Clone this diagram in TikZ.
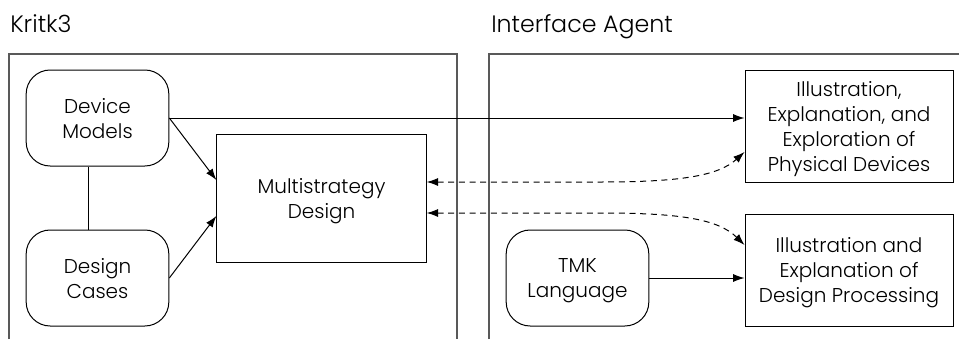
\documentclass[tikz,border=0pt]{standalone}
\usepackage{fontspec}
\setmainfont{Poppins}[UprightFont=* Light]
\usetikzlibrary{arrows.meta}
\begin{document}
\begin{tikzpicture}[x=0.75pt,y=-0.75pt,
  body/.style={font=\fontsize{15}{18.75}\selectfont, align=center, inner sep=0pt,
    text depth=0pt},
  title/.style={font=\fontsize{17.8}{20}\selectfont, inner sep=0pt, anchor=base west},
  roundbox/.style={body, draw, line width=0.75pt, rounded corners=18pt,
    minimum width=107pt, minimum height=72pt},
  plainbox/.style={body, draw, line width=0.75pt},
  frameline/.style={draw=black!65, line width=1.1pt},
  arrowtip/.tip={Latex[length=8.5pt,width=6pt]},
  link/.style={line width=0.75pt},
  flow/.style={link, -arrowtip},
  twoway/.style={link, dash pattern=on 4.5pt off 3.5pt, arrowtip-arrowtip}]
  \useasboundingbox (0,0) rectangle (959,339);

  % group titles
  \node[title] (tk) at (10,32) {Kritk3};
  \node[title] (ti) at (491,32) {Interface Agent};

  % group frames, open at the bottom
  \draw[frameline] (9,339) -- (9,54) -- (457,54) -- (457,339);
  \draw[frameline] (489,339) -- (489,54) -- (962,54);

  % Kritk3 components
  \node[roundbox] (dm) at (97.5,118) {Device\\Models};
  \node[roundbox] (dc) at (97.5,278) {Design\\Cases};
  \node[plainbox, minimum width=157pt, minimum height=96pt] (ms) at (321.5,198)
    {Multistrategy\\Design};

  % Interface Agent components
  \node[plainbox, minimum width=156pt, minimum height=84pt] (ie) at (849,126)
    {Illustration,\\Explanation, and\\Exploration of\\Physical Devices};
  \node[plainbox, minimum width=156pt, minimum height=84pt] (id) at (849,270)
    {Illustration and\\Explanation of\\Design Processing};
  \node[roundbox] (tmk) at (577.5,278) {TMK\\Language};

  % connectors
  \draw[link] ([xshift=-6.4pt]dm.south) -- ([xshift=-6.4pt]dc.north);
  \draw[flow] (dm.east) -- (ie.west |- dm.east);
  \draw[flow] (dm.east) -- ([yshift=13.5pt]ms.west);
  \draw[flow] (dc.east) -- ([yshift=-13.5pt]ms.west);
  \draw[flow] (tmk.east) -- (id.west |- tmk.east);

  \coordinate (u1) at (ms.east |- 0,182);
  \coordinate (u2) at (ie.west |- 0,152);
  \coordinate (l1) at (ms.east |- 0,213);
  \coordinate (l2) at (id.west |- 0,245);
  \draw[twoway] (u1) -- (600,182) .. controls (680,182) and (718,176) .. (u2);
  \draw[twoway] (l1) -- (600,213) .. controls (680,213) and (718,219) .. (l2);
\end{tikzpicture}
\end{document}
